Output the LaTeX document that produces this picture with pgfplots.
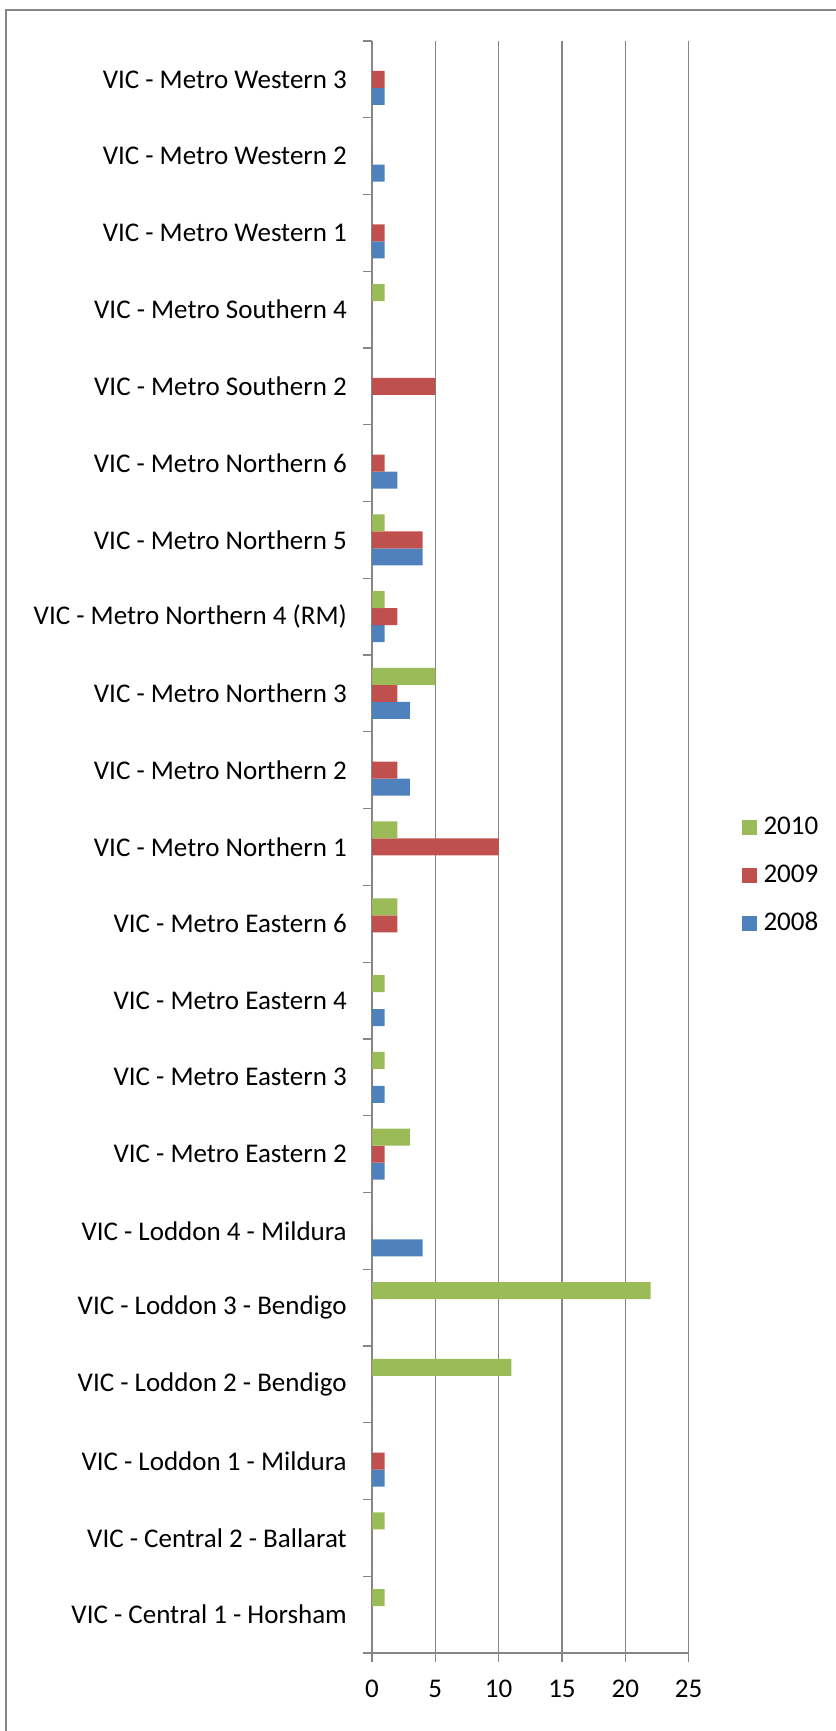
\documentclass[border=0pt]{standalone}
\usepackage{pgfplots}
\pgfplotsset{compat=1.18}
\usepackage{fontspec}
\setmainfont{Carlito}
\definecolor{c08}{RGB}{79,129,189}
\definecolor{c09}{RGB}{192,80,77}
\definecolor{c10}{RGB}{155,187,89}
\definecolor{gridgray}{RGB}{134,134,134}
\begin{document}
\begin{tikzpicture}[x=1pt,y=1pt]
\draw[gridgray, line width=2pt] (6pt,-20pt) rectangle (870pt,1721pt);
\begin{axis}[
  at={(372pt,78pt)}, anchor=south west,
  scale only axis, width=316.6pt, height=1612pt,
  xbar, bar width=17pt,
  xmin=0, xmax=25, ymin=-0.5, ymax=20.5,
  axis x line*=bottom, axis y line*=left,
  axis line style={gridgray, line width=1.2pt, -},
  xtick={0,5,...,25},
  xmajorgrids, grid style={gridgray, line width=1.2pt},
  tick align=outside, major tick length=9pt,
  tick style={gridgray, line width=1.2pt},
  ytick={-0.5,0.5,...,20.5}, yticklabels={},
  extra y ticks={0,1,...,20},
  extra y tick style={major tick length=0pt, tick style={draw=none}, grid=none},
  extra y tick labels={
    VIC - Central 1 - Horsham,
    VIC - Central 2 - Ballarat,
    VIC - Loddon 1 - Mildura,
    VIC - Loddon 2 - Bendigo,
    VIC - Loddon 3 - Bendigo,
    VIC - Loddon 4 - Mildura,
    VIC - Metro Eastern 2,
    VIC - Metro Eastern 3,
    VIC - Metro Eastern 4,
    VIC - Metro Eastern 6,
    VIC - Metro Northern 1,
    VIC - Metro Northern 2,
    VIC - Metro Northern 3,
    VIC - Metro Northern 4 (RM),
    VIC - Metro Northern 5,
    VIC - Metro Northern 6,
    VIC - Metro Southern 2,
    VIC - Metro Southern 4,
    VIC - Metro Western 1,
    VIC - Metro Western 2,
    VIC - Metro Western 3},
  yticklabel style={font=\fontsize{27pt}{32pt}\selectfont, anchor=east, xshift=-25pt, inner sep=0pt},
  xticklabel style={font=\fontsize{27pt}{32pt}\selectfont, inner sep=0pt, yshift=-18pt},
  /pgf/number format/assume math mode=true,
  legend style={draw=none, fill=none, at={(axis description cs:1.157,0.482)}, anchor=west,
    font=\fontsize{27pt}{32pt}\selectfont, row sep=23pt, column sep=7pt,
    nodes={inner sep=0pt, text height=19pt, text depth=6pt}},
  legend cell align=left,
  reverse legend,
  legend image code/.code={\path[#1, draw=none] (0pt,-7pt) rectangle (15pt,8pt);},
]
\addplot[fill=c08, draw=none, bar shift=-17pt] coordinates {
  (0,0) (0,1) (1,2) (0,3) (0,4) (4,5) (1,6) (1,7) (1,8) (0,9) (0,10)
  (3,11) (3,12) (1,13) (4,14) (2,15) (0,16) (0,17) (1,18) (1,19) (1,20)};
\addlegendentry{2008}
\addplot[fill=c09, draw=none, bar shift=0pt] coordinates {
  (0,0) (0,1) (1,2) (0,3) (0,4) (0,5) (1,6) (0,7) (0,8) (2,9) (10,10)
  (2,11) (2,12) (2,13) (4,14) (1,15) (5,16) (0,17) (1,18) (0,19) (1,20)};
\addlegendentry{2009}
\addplot[fill=c10, draw=none, bar shift=17pt] coordinates {
  (1,0) (1,1) (0,2) (11,3) (22,4) (0,5) (3,6) (1,7) (1,8) (2,9) (2,10)
  (0,11) (5,12) (1,13) (1,14) (0,15) (0,16) (1,17) (0,18) (0,19) (0,20)};
\addlegendentry{2010}
\end{axis}
\pgfresetboundingbox
\path[use as bounding box] (0pt,0pt) rectangle (835pt,1731pt);
\end{tikzpicture}
\end{document}
